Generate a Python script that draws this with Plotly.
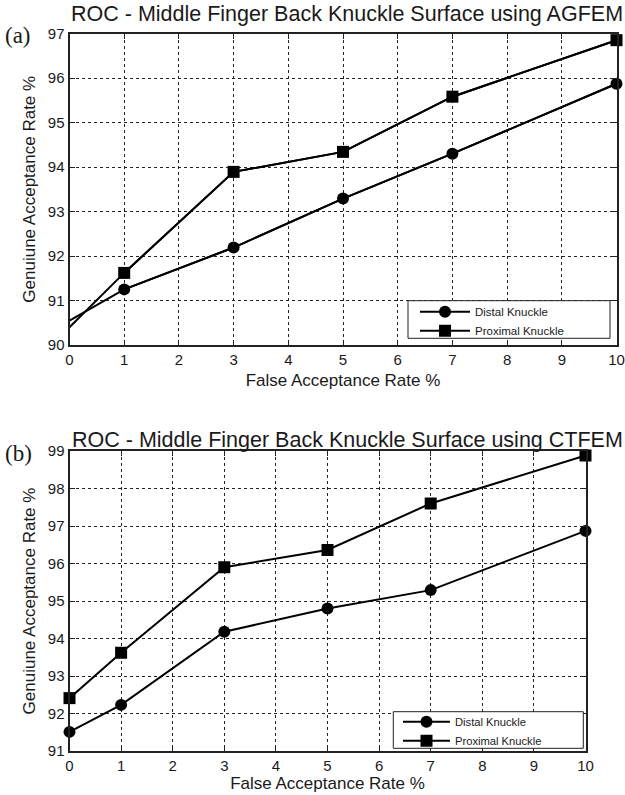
import plotly.graph_objects as go

# ---------------- data ----------------
far_a = [0, 1, 3, 5, 7, 10]
distal_a = [90.55, 91.25, 92.19, 93.29, 94.30, 95.87]
proximal_a = [90.40, 91.62, 93.89, 94.34, 95.58, 96.85]

far_b = [0, 1, 3, 5, 7, 10]
distal_b = [91.51, 92.23, 94.18, 94.80, 95.29, 96.87]
proximal_b = [92.41, 93.62, 95.90, 96.36, 97.60, 98.88]

x_ticks = list(range(0, 11))
y_ticks_a = list(range(90, 98))
y_ticks_b = list(range(91, 100))

title_a = "ROC - Middle Finger Back Knuckle Surface using AGFEM"
title_b = "ROC - Middle Finger Back Knuckle Surface using CTFEM"
x_title = "False Acceptance Rate %"
y_title = "Genuiune Acceptance Rate %"
names = ["Distal Knuckle", "Proximal Knuckle"]

# ---------------- layout helpers ----------------
W, H = 625, 795
FONT = "Liberation Sans, Arial, sans-serif"
SERIF = "Liberation Serif, Times New Roman, serif"
TXT = "#1a1a1a"
MS = 12


def px_x(p):
    return p / W


def px_y(p):
    return 1 - p / H


fig = go.Figure()

# top chart: the lines start at x=0 but markers are only drawn from x=1
for ys, nm, sym in [(distal_a, names[0], "circle"), (proximal_a, names[1], "square")]:
    fig.add_trace(go.Scatter(
        x=far_a, y=ys, mode="lines", showlegend=False, hoverinfo="skip",
        line=dict(color="black", width=2), cliponaxis=False,
        xaxis="x", yaxis="y"))
    fig.add_trace(go.Scatter(
        x=far_a[1:], y=ys[1:], name=nm, mode="lines+markers",
        line=dict(color="black", width=2),
        marker=dict(symbol=sym, size=MS, color="black"),
        cliponaxis=False, xaxis="x", yaxis="y", legend="legend"))

for ys, nm, sym in [(distal_b, names[0], "circle"), (proximal_b, names[1], "square")]:
    fig.add_trace(go.Scatter(
        x=far_b, y=ys, name=nm, mode="lines+markers",
        line=dict(color="black", width=2),
        marker=dict(symbol=sym, size=MS, color="black"),
        cliponaxis=False, xaxis="x2", yaxis="y2", legend="legend2"))

axis_common = dict(
    showline=True, linecolor="#222", linewidth=2, mirror="allticks",
    ticks="inside", ticklen=5, tickcolor="#222", tickwidth=1,
    showgrid=True, gridcolor="#222", gridwidth=1, griddash="3px,3px",
    zeroline=False, tickfont=dict(family=FONT, size=15, color=TXT),
    title_font=dict(family=FONT, size=17, color=TXT),
    automargin=False,
)

legend_common = dict(
    xanchor="left", yanchor="top",
    bgcolor="rgba(0,0,0,0)", borderwidth=0,
    tracegroupgap=0,
)

fig.update_layout(
    width=W, height=H,
    margin=dict(l=0, r=0, t=0, b=0),
    paper_bgcolor="white", plot_bgcolor="white",
    font=dict(family=FONT, color=TXT),
    xaxis=dict(axis_common, domain=[px_x(69.5), px_x(616.5)], range=[0, 10],
               tickvals=x_ticks, anchor="y",
               title=dict(text=x_title, standoff=7)),
    yaxis=dict(axis_common, domain=[px_y(345), px_y(33.5)], range=[90, 97],
               tickvals=y_ticks_a, anchor="x",
               title=dict(text=y_title, standoff=8)),
    xaxis2=dict(axis_common, domain=[px_x(69.5), px_x(585.5)], range=[0, 10],
                tickvals=x_ticks, anchor="y2",
                title=dict(text=x_title, standoff=4)),
    yaxis2=dict(axis_common, domain=[px_y(751), px_y(451)], range=[91, 99],
                tickvals=y_ticks_b, anchor="x2",
                title=dict(text=y_title, standoff=8)),
    legend=dict(legend_common, x=px_x(415), y=px_y(297.2), itemwidth=50,
                font=dict(family=FONT, size=11.5, color=TXT)),
    legend2=dict(legend_common, x=px_x(398), y=px_y(707.2), itemwidth=47,
                 font=dict(family=FONT, size=11.2, color=TXT)),
    showlegend=True,
)

# legend frames (decoration around the library legends)
fig.add_shape(type="rect", xref="paper", yref="paper", layer="above",
              x0=px_x(408), x1=px_x(610), y0=px_y(338.3), y1=px_y(300.7),
              line=dict(color="#222", width=1), fillcolor="white")
fig.add_shape(type="rect", xref="paper", yref="paper", layer="above",
              x0=px_x(393.3), x1=px_x(583.3), y0=px_y(748.3), y1=px_y(711.7),
              line=dict(color="#222", width=1), fillcolor="white")

annotations = [
    dict(text=title_a, x=px_x(347), y=px_y(14), xref="paper", yref="paper",
         showarrow=False, font=dict(family=FONT, size=21.5, color=TXT),
         xanchor="center", yanchor="middle"),
    dict(text=title_b, x=px_x(347), y=px_y(440), xref="paper", yref="paper",
         showarrow=False, font=dict(family=FONT, size=21.5, color=TXT),
         xanchor="center", yanchor="middle"),
    dict(text="(a)", x=px_x(3), y=px_y(36), xref="paper", yref="paper",
         showarrow=False, font=dict(family=SERIF, size=23, color=TXT),
         xanchor="left", yanchor="middle"),
    dict(text="(b)", x=px_x(3), y=px_y(453), xref="paper", yref="paper",
         showarrow=False, font=dict(family=SERIF, size=23, color=TXT),
         xanchor="left", yanchor="middle"),
]
fig.update_layout(annotations=annotations)

fig.write_html("out.html", config={"displayModeBar": False},
               post_script="document.body.style.margin='0px';")
